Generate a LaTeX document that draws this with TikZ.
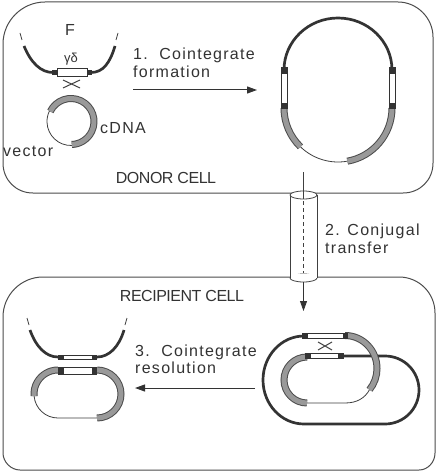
\documentclass[tikz,border=0pt]{standalone}
\usepackage{fontspec}
\setmainfont{Liberation Sans}
\usetikzlibrary{arrows.meta}
\begin{document}
\begin{tikzpicture}[x=1pt,y=-1pt,
  cell/.style={draw=black!70, line width=1pt},
  dna/.style={draw=black!80, line width=2.7pt},
  thinline/.style={draw=black!75, line width=0.8pt},
  hatch/.style={draw=black!70, line width=7pt, postaction={draw=black!40, line width=5pt}},
  gdbox/.style={draw=black!80, fill=white, line width=0.9pt},
  gdend/.style={fill=black!80},
  lbl/.style={font=\fontsize{16}{16}\selectfont\addfontfeature{LetterSpace=8}, text=black!80, inner sep=0pt},
  cellname/.style={font=\fontsize{16}{16}\selectfont\addfontfeature{LetterSpace=-3}, text=black!80, inner sep=0pt},
  arr/.style={draw=black!80, line width=1pt, -{Triangle[length=10pt,width=7pt]}}
]
\useasboundingbox[fill=white] (0,0) rectangle (441,473);

% donor cell
\draw[cell] (3,44) .. controls (3,21) and (22,2) .. (45,2) -- (398,2)
  .. controls (417,2) and (433,18) .. (433,37) -- (433,163)
  .. controls (433,180) and (420,193) .. (403,193) -- (33,193)
  .. controls (16,193) and (3,180) .. (3,163) -- cycle;
% recipient cell
\draw[cell] (3,317) .. controls (3,295) and (21,277) .. (43,277) -- (399,277)
  .. controls (419,277) and (435,293) .. (435,313) -- (435,453)
  .. controls (435,462) and (428,470) .. (419,470) -- (20,470)
  .. controls (11,470) and (3,462) .. (3,453) -- cycle;

% ---------- donor: F and vector ----------
\node[lbl] (F) at (70,30) {F};
\draw[thinline] (20,33) -- (22,40);
\draw[thinline] (118,33) -- (116,40);
\draw[dna] (24,46) .. controls (31,63) and (41,72.5) .. (53,72.5);
\draw[dna] (91,72.5) .. controls (103,72.5) and (110,63) .. (115,46);
\fill[gdend] (52,70) rectangle (57,75.5);
\fill[gdend] (87,70) rectangle (92,75.5);
\draw[gdbox] (57,68.5) rectangle (87,76);
\node[font=\fontsize{13}{13}\selectfont, text=black!80, inner sep=0pt] (gd) at (71,59) {γδ};
\draw[thinline, line width=1pt] (63,80) -- (80,88) (63,88) -- (80,80);
\coordinate (vc) at (71,121.5);
\draw[thinline] (vc) ++(448:24) arc[start angle=448, end angle=566, radius=24];
\draw[hatch] (vc) ++(206:23) arc[start angle=206, end angle=448, radius=23];
\node[lbl, anchor=base west] (cdna) at (100,134) {cDNA};
\node[lbl, anchor=base west] (vec) at (3,157) {vector};

% step 1
\node[lbl, anchor=base west] (t1a) at (133,60) {1.\ \ Cointegrate};
\node[lbl, anchor=base west] (t1b) at (133,78) {formation};
\coordinate (a1s) at (133,90);
\coordinate (a1e) at (257,90);
\draw[arr] (a1s) -- (a1e);
\node[cellname, anchor=base] (donor) at (166,183) {DONOR CELL};

% ---------- donor: cointegrate ----------
\draw[dna] (284,70) arc[start angle=180, end angle=360, x radius=54, y radius=52];
\draw[thinline] (338,108) ++(134:54) arc[start angle=134, end angle=80, radius=54];
\draw[hatch] (284,108) arc[start angle=180, end angle=134, radius=54];
\draw[hatch] (338,108) ++(80:54) arc[start angle=80, end angle=0, radius=54];
\foreach \cx in {284,392}{
  \fill[gdend] (\cx-3.5,67) rectangle (\cx+3.5,73);
  \fill[gdend] (\cx-3.5,103) rectangle (\cx+3.5,109);
  \draw[gdbox] (\cx-3,73) rectangle (\cx+3,103);
}

% ---------- conjugal transfer ----------
\coordinate (vtop) at (303.5,172);
\coordinate (vbot) at (303.5,311);
\fill[white] (290,195) rectangle (317,278);
\draw[thinline, fill=white] (303.5,278) ellipse[x radius=13.5, y radius=4];
\fill[white] (290,278) rectangle (317,274);
\draw[thinline] (290,195) -- (290,278) (317,195) -- (317,278);
\draw[thinline, fill=white] (303.5,195) ellipse[x radius=13.5, y radius=4];
\draw[thinline] (vtop) -- (303.5,199);
\draw[thinline, dashed, dash pattern=on 4pt off 3pt] (303.5,201) -- (303.5,273);
\draw[arr, line width=0.8pt] (303.5,282) -- (vbot);
\node[lbl, anchor=base west] (t2a) at (325,235) {2. Conjugal};
\node[lbl, anchor=base west] (t2b) at (325,253) {transfer};

% ---------- recipient ----------
\node[cellname, anchor=base] (recip) at (182,301.5) {RECIPIENT CELL};
\draw[thinline] (27,318) -- (29,325);
\draw[thinline] (127,318) -- (125,325);
\draw[dna] (30,330) .. controls (36,347) and (46,357) .. (58,357);
\draw[dna] (97,357) .. controls (109,357) and (119,347) .. (124,330);
\fill[gdend] (58,354.5) rectangle (63,359.5);
\fill[gdend] (92,354.5) rectangle (97,359.5);
\draw[gdbox] (63,355) rectangle (92,359);

\draw[thinline] (58,394) ++(175:24) arc[start angle=175, end angle=90, radius=24] -- (97,418);
\draw[hatch] (58,370) arc[start angle=270, end angle=175, radius=24];
\draw[hatch] (97,370) arc[start angle=-90, end angle=90, radius=24];
\fill[gdend] (58,366.5) rectangle (63,374.5);
\fill[gdend] (92,366.5) rectangle (97,374.5);
\draw[gdbox] (63,367) rectangle (92,374);

% step 3
\node[lbl, anchor=base west] (t3a) at (135,356.5) {3.\ \ Cointegrate};
\node[lbl, anchor=base west] (t3b) at (135,373) {resolution};
\coordinate (a3s) at (255,388);
\coordinate (a3e) at (135,388);
\draw[arr] (a3s) -- (a3e);

% interlocked cointegrate
\draw[dna] (304,336) arc[start angle=270, end angle=90, x radius=41, y radius=44]
  -- (385,424) arc[start angle=90, end angle=-90, radius=34] -- (344,356);
\draw[hatch] (307,357) arc[start angle=270, end angle=90, radius=23];
\draw[thinline] (307,403) -- (345,403) .. controls (357,403) and (365,398) .. (369.5,389.7);
\draw[hatch] (345,335.5) arc[start angle=270, end angle=400, x radius=32, y radius=33];
\fill[gdend] (302,332.5) rectangle (307,338.5);
\fill[gdend] (343,332.5) rectangle (348,338.5);
\draw[gdbox] (307,333) rectangle (343,338);
\fill[gdend] (305,352.5) rectangle (310,358.5);
\fill[gdend] (338,352.5) rectangle (344,358.5);
\draw[gdbox] (310,353) rectangle (338,358);
\draw[thinline, line width=1pt] (318,342) -- (332,350) (318,350) -- (332,342);
\end{tikzpicture}
\end{document}
